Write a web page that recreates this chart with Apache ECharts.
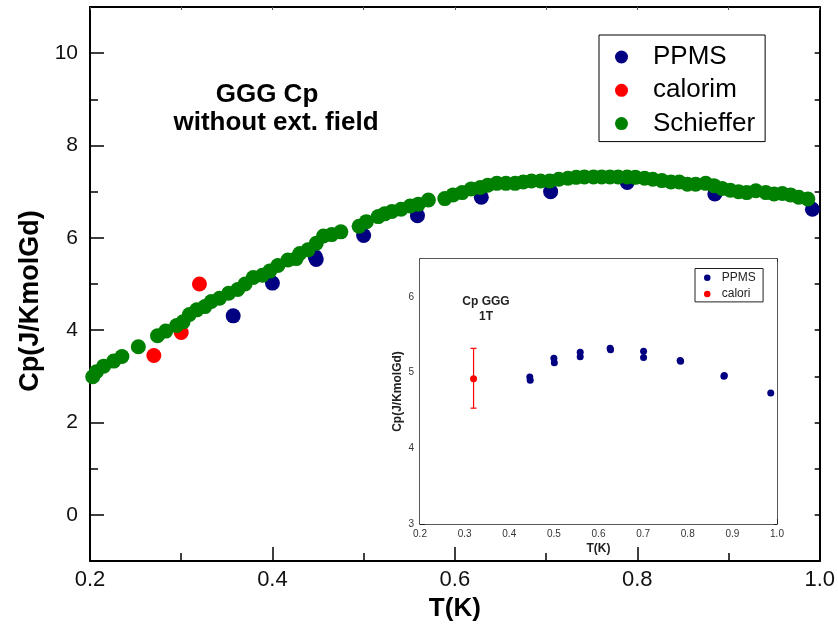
<!DOCTYPE html>
<html><head><meta charset="utf-8">
<script src="https://cdn.jsdelivr.net/npm/echarts@6/dist/echarts.min.js"></script>
<style>html,body{margin:0;padding:0;background:#fff}#c{width:838px;height:643px}</style>
</head><body><div id="c"></div>
<script>
// ---- Main chart data (zero field) ----
const ppmsT = [0.357, 0.400, 0.447, 0.448, 0.500, 0.559, 0.629, 0.705, 0.789, 0.885, 0.992];
const ppmsCp = [4.31, 5.02, 5.59, 5.53, 6.05, 6.48, 6.88, 7.00, 7.20, 6.95, 6.62];
const calorimT = [0.270, 0.300, 0.320];
const calorimCp = [3.45, 3.95, 5.00];
const schiefferT = [0.203, 0.207, 0.215, 0.226, 0.235, 0.253, 0.274, 0.283, 0.295, 0.302, 0.309, 0.317, 0.326, 0.333, 0.342, 0.352, 0.362, 0.370, 0.379, 0.389, 0.397, 0.406, 0.417, 0.426, 0.430, 0.439, 0.448, 0.456, 0.465, 0.475, 0.495, 0.503, 0.516, 0.523, 0.531, 0.541, 0.551, 0.560, 0.571, 0.589, 0.598, 0.608, 0.618, 0.628, 0.636, 0.646, 0.656, 0.666, 0.675, 0.684, 0.694, 0.704, 0.714, 0.724, 0.733, 0.742, 0.752, 0.761, 0.770, 0.779, 0.789, 0.798, 0.808, 0.817, 0.827, 0.837, 0.846, 0.855, 0.864, 0.875, 0.884, 0.893, 0.902, 0.911, 0.920, 0.930, 0.941, 0.950, 0.959, 0.968, 0.977, 0.987];
const schiefferCp = [2.99, 3.10, 3.22, 3.33, 3.43, 3.64, 3.88, 3.98, 4.10, 4.18, 4.34, 4.44, 4.51, 4.62, 4.69, 4.80, 4.88, 5.00, 5.14, 5.19, 5.28, 5.40, 5.52, 5.55, 5.66, 5.74, 5.88, 6.04, 6.07, 6.13, 6.25, 6.35, 6.46, 6.52, 6.57, 6.62, 6.69, 6.73, 6.82, 6.85, 6.93, 6.98, 7.06, 7.09, 7.14, 7.18, 7.18, 7.18, 7.21, 7.23, 7.23, 7.23, 7.27, 7.29, 7.31, 7.32, 7.32, 7.32, 7.32, 7.32, 7.32, 7.31, 7.29, 7.27, 7.24, 7.21, 7.21, 7.16, 7.16, 7.18, 7.13, 7.07, 7.03, 7.00, 6.98, 7.02, 6.98, 6.95, 6.96, 6.93, 6.88, 6.84];

// ---- Inset data (1T) ----
const insetPpmsT = [0.446, 0.447, 0.500, 0.501, 0.559, 0.559, 0.626, 0.627, 0.701, 0.701, 0.783, 0.784, 0.881, 0.882, 0.986];
const insetPpmsCp = [4.94, 4.90, 5.19, 5.13, 5.27, 5.21, 5.32, 5.30, 5.28, 5.20, 5.16, 5.15, 4.95, 4.96, 4.73];
const insetCaloriT = [0.320];
const insetCaloriCp = [4.92];
const insetCaloriLow = [4.53];
const insetCaloriHigh = [5.32];

// ---- Tick values ----
const mainYMajor = [0, 2, 4, 6, 8, 10];
const mainYMinor = [1, 3, 5, 7, 9];
const insetYMajor = [3, 4, 5, 6];
const insetYMinor = [3.5, 4.5, 5.5];

const FONT = "'Liberation Sans', Arial, sans-serif";
const zip = (a, b) => a.map((v, i) => [v, b[i]]);

const chart = echarts.init(document.getElementById('c'), null, {renderer: 'canvas'});

const axLine = {show: true, onZero: false, lineStyle: {color: '#000', width: 2}};
const inAxLine = {show: true, onZero: false, lineStyle: {color: '#222', width: 1.5}};

const option = {
  backgroundColor: '#fff',
  animation: false,
  grid: [
    {left: 90, right: 17, top: 7, bottom: 82, containLabel: false},
    {left: 420, right: 61, top: 259, bottom: 119, containLabel: false, show: true, backgroundColor: '#fff', borderWidth: 0, z: 5}
  ],
  legend: [
    {
      data: ['PPMS', 'calorim', 'Schieffer'],
      left: 599, top: 35, orient: 'vertical',
      icon: 'circle', itemWidth: 53, itemHeight: 13, itemGap: 3.3,
      padding: [7, 10, 3, 16],
      borderColor: '#000', borderWidth: 1, backgroundColor: '#fff',
      textStyle: {fontFamily: FONT, fontSize: 26, color: '#000', lineHeight: 30},
      selectedMode: false
    },
    {
      data: ['PPMS ', 'calori'],
      left: 695, top: 268.5, orient: 'vertical',
      icon: 'circle', itemWidth: 19, itemHeight: 6.5, itemGap: 2.2,
      padding: [2.2, 4, 1, 9],
      borderColor: '#222', borderWidth: 1, backgroundColor: '#fff',
      textStyle: {fontFamily: FONT, fontSize: 12, color: '#222', lineHeight: 14},
      selectedMode: false, z: 10
    }
  ],
  xAxis: [
    {
      gridIndex: 0, type: 'value', position: 'bottom', min: 0.2, max: 1.0, interval: 0.2,
      axisLine: axLine,
      axisTick: {show: true, inside: true, length: 14, lineStyle: {color: '#000', width: 1.5}},
      minorTick: {show: true, splitNumber: 2, length: 8, lineStyle: {color: '#000', width: 1.5}},
      splitLine: {show: false},
      axisLabel: {fontFamily: FONT, fontSize: 22, color: '#111', margin: 8, formatter: v => v.toFixed(1)},
      name: 'T(K)', nameLocation: 'middle', nameGap: 27,
      nameTextStyle: {fontFamily: FONT, fontSize: 26, fontWeight: 'bold', color: '#000'}
    },
    {
      gridIndex: 0, type: 'value', position: 'top', min: 0.2, max: 1.0, interval: 0.1,
      axisLine: axLine,
      axisTick: {show: true, inside: true, length: 3, lineStyle: {color: '#555', width: 1}},
      axisLabel: {show: false}, splitLine: {show: false}
    },
    {
      gridIndex: 1, type: 'value', position: 'bottom', min: 0.2, max: 1.0, interval: 0.1,
      axisLine: inAxLine,
      axisTick: {show: true, inside: true, length: 5, lineStyle: {color: '#222', width: 1}},
      minorTick: {show: true, splitNumber: 2, length: 3, lineStyle: {color: '#222', width: 1}},
      splitLine: {show: false},
      axisLabel: {fontFamily: FONT, fontSize: 10, color: '#333', margin: 5, formatter: v => v.toFixed(1)},
      name: 'T(K)', nameLocation: 'middle', nameGap: 19,
      nameTextStyle: {fontFamily: FONT, fontSize: 12, fontWeight: 'bold', color: '#222'}
    },
    {
      gridIndex: 1, type: 'value', position: 'top', min: 0.2, max: 1.0, interval: 0.05,
      axisLine: inAxLine,
      axisTick: {show: true, inside: true, length: 3, lineStyle: {color: '#222', width: 1}},
      axisLabel: {show: false}, splitLine: {show: false}
    }
  ],
  yAxis: [
    {
      gridIndex: 0, type: 'value', position: 'left', min: -1, max: 11, interval: 1,
      axisLine: axLine,
      axisTick: {show: true, inside: true, length: 14, customValues: mainYMajor, lineStyle: {color: '#000', width: 1.5}},
      axisLabel: {fontFamily: FONT, fontSize: 21, color: '#111', margin: 12, customValues: mainYMajor},
      splitLine: {show: false},
      name: 'Cp(J/KmolGd)', nameLocation: 'middle', nameGap: 46,
      nameTextStyle: {fontFamily: FONT, fontSize: 27, fontWeight: 'bold', color: '#000', padding: [0, 34, 0, 0]}
    },
    {
      gridIndex: 0, type: 'value', position: 'left', min: -1, max: 11, interval: 1,
      axisLine: {show: false},
      axisTick: {show: true, inside: true, length: 8, customValues: mainYMinor, lineStyle: {color: '#000', width: 1.5}},
      axisLabel: {show: false}, splitLine: {show: false}
    },
    {
      gridIndex: 0, type: 'value', position: 'right', min: -1, max: 11, interval: 1,
      axisLine: axLine,
      axisTick: {show: true, inside: true, length: 5, lineStyle: {color: '#000', width: 1.5}},
      axisLabel: {show: false}, splitLine: {show: false}
    },
    {
      gridIndex: 1, type: 'value', position: 'left', min: 3, max: 6.5, interval: 0.5,
      axisLine: inAxLine,
      axisTick: {show: true, inside: true, length: 5, customValues: insetYMajor, lineStyle: {color: '#222', width: 1}},
      axisLabel: {fontFamily: FONT, fontSize: 10, color: '#333', margin: 6, customValues: insetYMajor},
      splitLine: {show: false},
      name: 'Cp(J/KmolGd)', nameLocation: 'middle', nameGap: 16,
      nameTextStyle: {fontFamily: FONT, fontSize: 12, fontWeight: 'bold', color: '#222'}
    },
    {
      gridIndex: 1, type: 'value', position: 'left', min: 3, max: 6.5, interval: 0.5,
      axisLine: {show: false},
      axisTick: {show: true, inside: true, length: 3, customValues: insetYMinor, lineStyle: {color: '#222', width: 1}},
      axisLabel: {show: false}, splitLine: {show: false}
    },
    {
      gridIndex: 1, type: 'value', position: 'right', min: 3, max: 6.5, interval: 0.5,
      axisLine: inAxLine,
      axisTick: {show: true, inside: true, length: 3, lineStyle: {color: '#222', width: 1}},
      axisLabel: {show: false}, splitLine: {show: false}
    }
  ],
  series: [
    {name: 'PPMS', type: 'scatter', xAxisIndex: 0, yAxisIndex: 0, symbolSize: 15,
      itemStyle: {color: '#000080', opacity: 1}, data: zip(ppmsT, ppmsCp), z: 2},
    {name: 'calorim', type: 'scatter', xAxisIndex: 0, yAxisIndex: 0, symbolSize: 15,
      itemStyle: {color: '#ff0000', opacity: 1}, data: zip(calorimT, calorimCp), z: 2},
    {name: 'Schieffer', type: 'scatter', xAxisIndex: 0, yAxisIndex: 0, symbolSize: 15,
      itemStyle: {color: '#008000', opacity: 1}, data: zip(schiefferT, schiefferCp), z: 3},
    {name: 'PPMS ', type: 'scatter', xAxisIndex: 2, yAxisIndex: 3, symbolSize: 7,
      itemStyle: {color: '#000080', opacity: 1}, data: zip(insetPpmsT, insetPpmsCp), z: 8},
    {name: 'calori', type: 'scatter', xAxisIndex: 2, yAxisIndex: 3, symbolSize: 7,
      itemStyle: {color: '#ff0000', opacity: 1}, data: zip(insetCaloriT, insetCaloriCp), z: 9},
    {name: 'caloriErr', type: 'custom', xAxisIndex: 2, yAxisIndex: 3, z: 8,
      data: insetCaloriT.map((t, i) => [t, insetCaloriLow[i], insetCaloriHigh[i]]),
      renderItem: (params, api) => {
        const lo = api.coord([api.value(0), api.value(1)]);
        const hi = api.coord([api.value(0), api.value(2)]);
        const s = {stroke: '#ff0000', lineWidth: 1.2};
        return {type: 'group', children: [
          {type: 'line', shape: {x1: lo[0], y1: lo[1], x2: hi[0], y2: hi[1]}, style: s},
          {type: 'line', shape: {x1: lo[0] - 3, y1: lo[1], x2: lo[0] + 3, y2: lo[1]}, style: s},
          {type: 'line', shape: {x1: hi[0] - 3, y1: hi[1], x2: hi[0] + 3, y2: hi[1]}, style: s}
        ]};
      }
    }
  ],
  graphic: [
    {type: 'text', x: 267, y: 95, z: 20, style: {text: 'GGG Cp', font: "bold 26px " + FONT, fill: '#000', align: 'center', verticalAlign: 'middle'}},
    {type: 'text', x: 276, y: 123, z: 20, style: {text: 'without ext. field', font: "bold 26px " + FONT, fill: '#000', align: 'center', verticalAlign: 'middle'}},
    {type: 'text', x: 486, y: 302, z: 20, style: {text: 'Cp GGG', font: "bold 12px " + FONT, fill: '#222', align: 'center', verticalAlign: 'middle'}},
    {type: 'text', x: 486, y: 317, z: 20, style: {text: '1T', font: "bold 12px " + FONT, fill: '#222', align: 'center', verticalAlign: 'middle'}}
  ]
};
chart.setOption(option);
</script>
</body></html>
